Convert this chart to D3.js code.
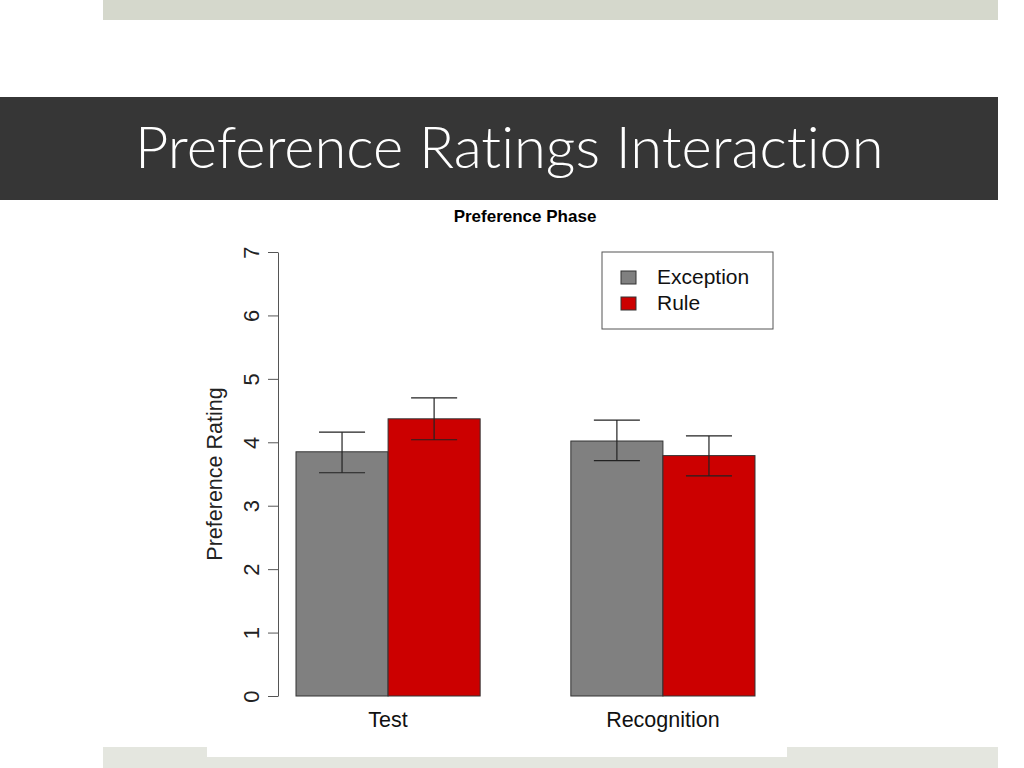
<!DOCTYPE html>
<html>
<head>
<meta charset="utf-8">
<script src="https://cdn.jsdelivr.net/npm/d3@7"></script>
<style>
  body { margin: 0; background: #fff; }
  svg { display: block; }
</style>
</head>
<body>
<svg id="slide"></svg>
<script>
// data
var groups = ["Test", "Recognition"];
var series = ["Exception", "Rule"];
var means = [[3.85, 4.37], [4.02, 3.79]];
var lower = [[3.52, 4.04], [3.71, 3.47]];
var upper = [[4.16, 4.70], [4.35, 4.10]];
var yTicks = [0, 1, 2, 3, 4, 5, 6, 7];

var width = 1024, height = 768;
var colour = d3.scaleOrdinal().domain(series).range(["#808080", "#cc0000"]);

var svg = d3.select("#slide")
  .attr("width", width)
  .attr("height", height);

// slide decoration
svg.append("rect").attr("x", 103).attr("y", 0).attr("width", 895).attr("height", 20).attr("fill", "#d5d8cc");
svg.append("rect").attr("x", 103).attr("y", 747).attr("width", 895).attr("height", 21).attr("fill", "#e4e6df");
svg.append("rect").attr("x", 207).attr("y", 740).attr("width", 580).attr("height", 17).attr("fill", "#fff");
svg.append("rect").attr("x", 0).attr("y", 97).attr("width", 998).attr("height", 103).attr("fill", "#363636");

var title = svg.append("text")
  .attr("x", 135).attr("y", 168)
  .attr("fill", "#fff")
  .style("font-family", "Lato, 'Open Sans', sans-serif")
  .style("font-weight", 300)
  .style("font-size", "52px")
  .style("font-variant-ligatures", "none")
  .text("Preference Ratings Interaction");
// stretch to the width in the slide
var tw = title.node().getComputedTextLength();
title.style("font-size", (52 * 749 / tw) + "px");

// chart
var y = d3.scaleLinear().domain([0, 7]).range([696, 252]);
var x0 = d3.scaleBand().domain(groups).range([296, 755]).paddingInner(0.33);
var x1 = d3.scaleBand().domain(series).range([0, x0.bandwidth()]);

var font = "Liberation Sans, Arial, sans-serif";

svg.append("text")
  .attr("x", 525).attr("y", 222)
  .attr("text-anchor", "middle")
  .style("font-family", font).style("font-weight", "bold").style("font-size", "17px")
  .text("Preference Phase");

// y axis, R style with rotated labels
var yAxis = svg.append("g")
  .attr("transform", "translate(278,0)")
  .call(d3.axisLeft(y).tickValues(yTicks).tickFormat(d3.format("d")).tickSize(10).tickSizeOuter(0).tickPadding(0));
yAxis.select(".domain").attr("stroke", "#555");
yAxis.selectAll(".tick line").attr("stroke", "#555");
yAxis.selectAll(".tick text")
  .attr("dy", 0)
  .attr("transform", "rotate(-90)")
  .attr("x", 0).attr("y", -19)
  .attr("text-anchor", "middle")
  .style("font-family", font).style("font-size", "22px").attr("fill", "#222");

svg.append("text")
  .attr("transform", "translate(222," + y(3.5) + ") rotate(-90)")
  .attr("text-anchor", "middle")
  .style("font-family", font).style("font-size", "21.5px").attr("fill", "#222")
  .text("Preference Rating");

// bars
var g = svg.selectAll(".grp")
  .data(groups)
  .enter().append("g")
  .attr("class", "grp")
  .attr("transform", function(d) { return "translate(" + x0(d) + ",0)"; });

g.selectAll("rect")
  .data(function(d, i) { return series.map(function(s, j) { return { s: s, v: means[i][j] }; }); })
  .enter().append("rect")
  .attr("x", function(d) { return x1(d.s); })
  .attr("y", function(d) { return y(d.v); })
  .attr("width", x1.bandwidth())
  .attr("height", function(d) { return y(0) - y(d.v); })
  .attr("fill", function(d) { return colour(d.s); })
  .attr("stroke", "#333").attr("stroke-width", 1);

// error bars
var eb = g.selectAll(".err")
  .data(function(d, i) { return series.map(function(s, j) { return { s: s, lo: lower[i][j], hi: upper[i][j] }; }); })
  .enter().append("g").attr("class", "err")
  .attr("transform", function(d) { return "translate(" + (x1(d.s) + x1.bandwidth() / 2) + ",0)"; });
var cap = x1.bandwidth() / 4;
eb.append("line").attr("x1", 0).attr("x2", 0)
  .attr("y1", function(d) { return y(d.hi); }).attr("y2", function(d) { return y(d.lo); });
eb.append("line").attr("x1", -cap).attr("x2", cap)
  .attr("y1", function(d) { return y(d.hi); }).attr("y2", function(d) { return y(d.hi); });
eb.append("line").attr("x1", -cap).attr("x2", cap)
  .attr("y1", function(d) { return y(d.lo); }).attr("y2", function(d) { return y(d.lo); });
eb.selectAll("line").attr("stroke", "#222").attr("stroke-width", 1.2);

// group labels
svg.selectAll(".glab")
  .data(groups)
  .enter().append("text")
  .attr("class", "glab")
  .attr("x", function(d) { return x0(d) + x0.bandwidth() / 2; })
  .attr("y", 727)
  .attr("text-anchor", "middle")
  .style("font-family", font).style("font-size", "21.5px").attr("fill", "#111")
  .text(function(d) { return d; });

// legend
var legend = svg.append("g").attr("transform", "translate(602,252)");
legend.append("rect").attr("width", 171).attr("height", 77)
  .attr("fill", "#fff").attr("stroke", "#555");
var item = legend.selectAll(".item")
  .data(series)
  .enter().append("g")
  .attr("transform", function(d, i) { return "translate(19," + (19 + i * 26) + ")"; });
item.append("rect").attr("width", 15).attr("height", 13)
  .attr("fill", function(d) { return colour(d); }).attr("stroke", "#333");
item.append("text").attr("x", 36).attr("y", 13)
  .style("font-family", font).style("font-size", "21px").attr("fill", "#111")
  .text(function(d) { return d; });
</script>
</body>
</html>
